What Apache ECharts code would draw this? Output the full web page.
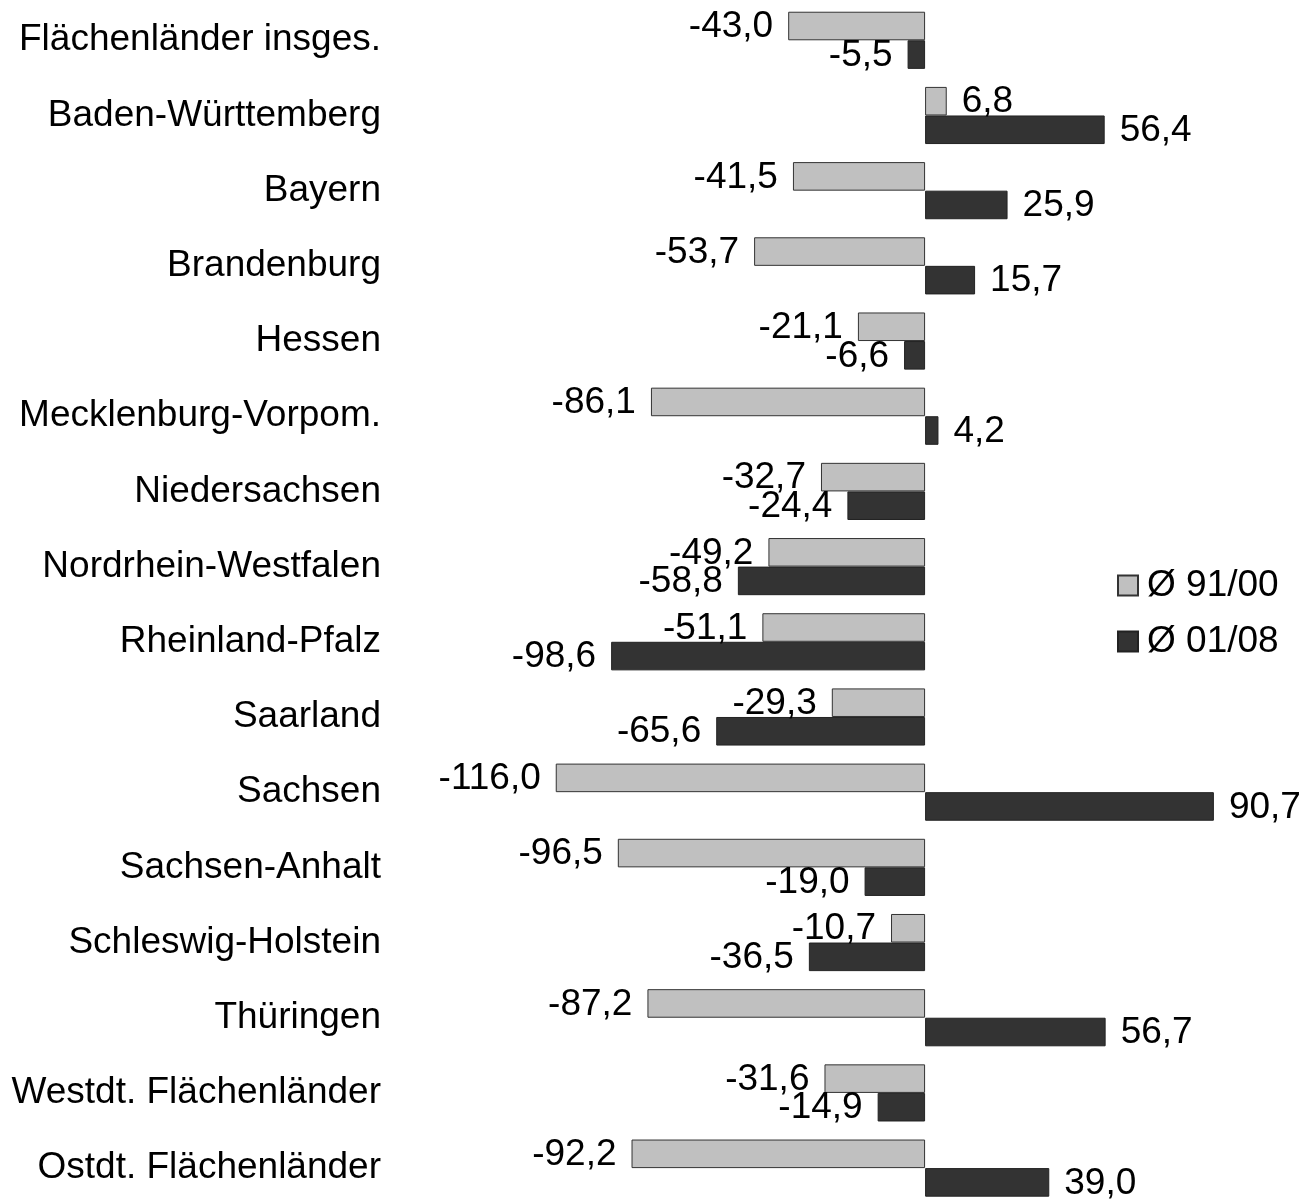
<!DOCTYPE html>
<html>
<head>
<meta charset="utf-8">
<script src="https://cdn.jsdelivr.net/npm/echarts@6/dist/echarts.min.js"></script>
<style>
  html,body{margin:0;padding:0;background:#fff;overflow:hidden;}
  #chart{width:1301px;height:1215px;}
</style>
</head>
<body>
<div id="chart"></div>
<script>
// Kategorien von oben nach unten
var laender = ['Flächenländer insges.', 'Baden-Württemberg', 'Bayern', 'Brandenburg', 'Hessen',
  'Mecklenburg-Vorpom.', 'Niedersachsen', 'Nordrhein-Westfalen', 'Rheinland-Pfalz', 'Saarland',
  'Sachsen', 'Sachsen-Anhalt', 'Schleswig-Holstein', 'Thüringen', 'Westdt. Flächenländer', 'Ostdt. Flächenländer'];
var werte9100 = [-43.0, 6.8, -41.5, -53.7, -21.1, -86.1, -32.7, -49.2, -51.1, -29.3, -116.0, -96.5, -10.7, -87.2, -31.6, -92.2];
var werte0108 = [-5.5, 56.4, 25.9, 15.7, -6.6, 4.2, -24.4, -58.8, -98.6, -65.6, 90.7, -19.0, -36.5, 56.7, -14.9, 39.0];
var serienNamen = ['Ø 91/00', 'Ø 01/08'];

var FONT = '"Liberation Sans", Arial, sans-serif';
var FS = 37;

function fmt(v){
  return v.toFixed(1).replace('.', ',');
}
// label links bei negativen, rechts bei positiven Werten
function mitLabel(arr){
  return arr.map(function(v){
    return {value: v, label: {position: v < 0 ? 'left' : 'right'}};
  });
}

var chart = echarts.init(document.getElementById('chart'));
chart.setOption({
  animation: false,
  backgroundColor: '#ffffff',
  textStyle: {fontFamily: FONT},
  grid: {left: 543, top: 2.7, width: 700.5, height: 1203, containLabel: false},
  legend: {
    orient: 'vertical',
    left: 1117,
    top: 567,
    padding: 0,
    icon: 'rect',
    itemWidth: 20,
    itemHeight: 20,
    itemGap: 19,
    textStyle: {fontSize: FS, color: '#000', fontFamily: FONT, padding: [4, 0, 0, 4]},
    data: serienNamen
  },
  xAxis: {
    type: 'value',
    min: -120,
    max: 100,
    show: false
  },
  yAxis: {
    type: 'category',
    data: laender,
    inverse: true,
    axisLine: {show: false},
    axisTick: {show: false},
    splitLine: {show: false},
    axisLabel: {fontSize: FS, color: '#000', fontFamily: FONT, margin: 162, padding: [4, 0, 0, 0]}
  },
  series: [
    {
      name: serienNamen[0],
      type: 'bar',
      data: mitLabel(werte9100),
      barGap: '0%',
      barCategoryGap: '24%',
      itemStyle: {color: '#c0c0c0', borderColor: '#333', borderWidth: 1},
      label: {show: true, fontSize: FS, color: '#000', fontFamily: FONT, distance: 15, offset: [0, 1],
        formatter: function(p){ return fmt(p.value); }}
    },
    {
      name: serienNamen[1],
      type: 'bar',
      data: mitLabel(werte0108),
      barGap: '0%',
      barCategoryGap: '24%',
      itemStyle: {color: '#333333', borderColor: '#222', borderWidth: 1},
      label: {show: true, fontSize: FS, color: '#000', fontFamily: FONT, distance: 15, offset: [0, 1],
        formatter: function(p){ return fmt(p.value); }}
    }
  ]
});
</script>
</body>
</html>
